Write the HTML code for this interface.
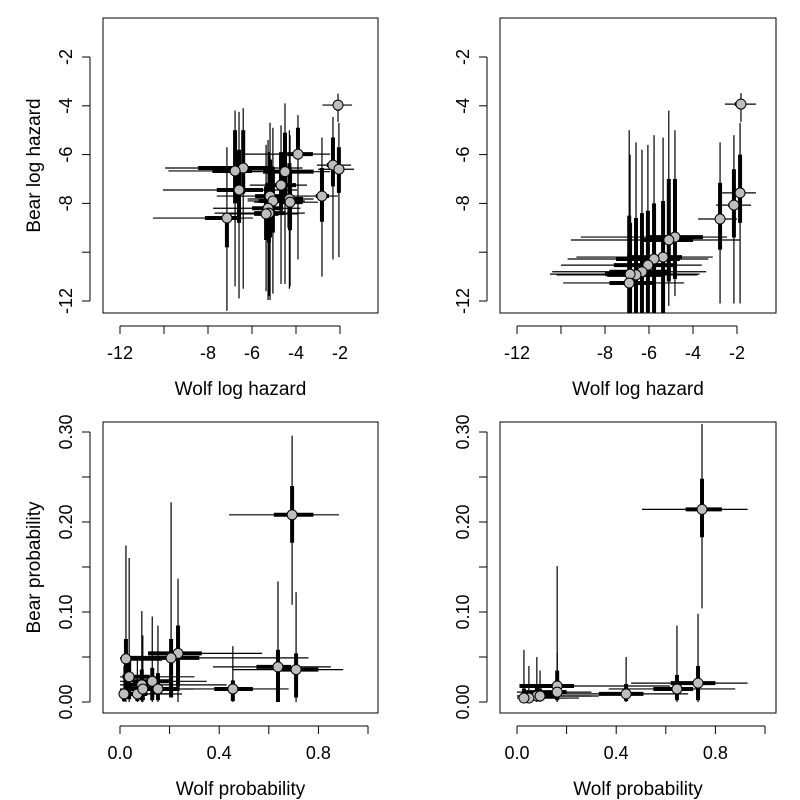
<!DOCTYPE html>
<html><head><meta charset="utf-8"><style>
html,body{margin:0;padding:0;background:#fff}
svg{display:block;font-family:"Liberation Sans",sans-serif}
</style></head><body>
<svg id="c" width="800" height="800" viewBox="0 0 800 800"></svg>
<script>
// Panel 1: log hazard, model A
const p1x=[-2.09,-3.91,-2.32,-2.05,-4.5,-6.4,-6.77,-6.59,-4.68,-2.82,-5.18,-4.3,-5.05,-4.27,-5.27,-5.23,-7.14,-5.36];
const p1y=[-3.97,-5.98,-6.43,-6.6,-6.7,-6.55,-6.67,-7.45,-7.25,-7.7,-7.7,-7.82,-7.9,-7.95,-8.2,-8.4,-8.6,-8.43];
const p1xlo=[-2.8,-6.4,-3.05,-3.0,-6.86,-9.95,-9.8,-10.05,-6.1,-3.8,-7.6,-6.2,-6.2,-5.9,-7.77,-7.7,-10.5,-7.0];
const p1xhi=[-1.45,-2.45,-1.5,-1.36,-2.45,-3.7,-4.7,-3.95,-3.5,-2.1,-3.5,-3.2,-3.6,-3.0,-3.8,-3.6,-5.95,-3.9];
const p1xlo50=[-2.3,-4.4,-2.6,-2.3,-5.5,-8.45,-7.8,-7.6,-5.4,-3.1,-5.86,-4.86,-5.7,-4.7,-6.0,-5.9,-8.14,-5.9];
const p1xhi50=[-1.9,-3.23,-2.1,-1.8,-3.2,-5.05,-6.0,-5.5,-4.0,-2.5,-4.27,-3.68,-4.5,-3.7,-4.6,-4.5,-6.55,-4.8];
const p1ylo=[-4.66,-10.3,-10.3,-10.2,-11.3,-11.5,-11.4,-11.9,-11.3,-11.0,-11.96,-11.5,-11.7,-11.4,-11.96,-11.8,-12.4,-11.6];
const p1yhi=[-3.5,-4.38,-4.46,-4.7,-3.9,-4.1,-4.2,-4.25,-4.8,-5.3,-4.7,-5.0,-4.9,-5.2,-5.4,-5.9,-5.7,-5.6];
const p1ylo50=[-4.2,-6.2,-7.3,-7.57,-7.7,-7.6,-8.0,-8.8,-8.3,-8.75,-9.4,-9.0,-9.2,-9.1,-9.4,-9.6,-9.8,-9.5];
const p1yhi50=[-3.8,-4.9,-5.3,-5.7,-5.1,-5.0,-5.0,-5.8,-5.9,-6.55,-6.2,-6.35,-6.5,-6.6,-7.16,-7.3,-8.5,-7.3];
// Panel 2: log hazard, model B
const p2x=[-1.82,-1.86,-2.14,-2.77,-4.82,-5.1,-5.36,-5.77,-6.05,-6.32,-6.59,-6.86,-6.9];
const p2y=[-3.93,-7.57,-8.07,-8.64,-9.38,-9.5,-10.2,-10.28,-10.53,-10.8,-10.93,-10.9,-11.26];
const p2xlo=[-2.55,-2.68,-2.95,-3.77,-9.1,-9.55,-9.3,-9.7,-10.0,-10.4,-10.2,-10.5,-9.9];
const p2xhi=[-1.14,-1.14,-1.36,-2.0,-2.45,-1.86,-3.1,-3.3,-3.6,-3.4,-3.8,-3.7,-4.4];
const p2xlo50=[-2.1,-2.1,-2.4,-3.0,-6.1,-6.4,-7.0,-7.5,-7.6,-7.8,-7.9,-8.0,-7.8];
const p2xhi50=[-1.6,-1.7,-1.9,-2.55,-3.55,-4.0,-4.5,-4.6,-4.8,-5.0,-5.3,-5.5,-5.7];
const p2ylo=[-4.66,-12.1,-12.1,-12.1,-11.8,-12.2,-13,-13,-13,-13,-13,-13,-13];
const p2yhi=[-3.48,-4.7,-5.2,-5.5,-5.0,-4.2,-5.3,-5.2,-5.6,-5.8,-5.5,-6.0,-5.0];
const p2ylo50=[-4.15,-8.8,-9.4,-9.9,-11.1,-11.2,-12.5,-12.5,-13,-13,-13,-13,-13];
const p2yhi50=[-3.75,-6.0,-6.6,-7.16,-7.0,-7.0,-7.9,-8.0,-8.3,-8.4,-8.6,-8.8,-8.5];
// Panel 3: probability, model A
const p3x=[0.694,0.637,0.71,0.455,0.234,0.206,0.024,0.037,0.088,0.13,0.153,0.07,0.016,0.092];
const p3y=[0.208,0.039,0.036,0.0145,0.054,0.049,0.048,0.028,0.019,0.023,0.0145,0.0089,0.009,0.0144];
const p3xlo=[0.44,0.375,0.456,0.38,0.113,0,0,0,0,0,0,0,0,0];
const p3xhi=[0.883,0.85,0.9,0.68,0.573,0.76,0.2,0.3,0.43,0.35,0.38,0.25,0.2,0.3];
const p3xlo50=[0.62,0.55,0.65,0.38,0.113,0.03,0.01,0.01,0.03,0.05,0.06,0.02,0.005,0.03];
const p3xhi50=[0.78,0.69,0.8,0.536,0.33,0.32,0.17,0.12,0.16,0.2,0.24,0.11,0.05,0.15];
const p3ylo=[0.108,0,0,0,0,0.005,0,0,0,0,0,0,0,0];
const p3yhi=[0.296,0.134,0.122,0.062,0.137,0.222,0.174,0.16,0.101,0.095,0.085,0.048,0.04,0.074];
const p3ylo50=[0.177,0,0.005,0.001,0.017,0.005,0.005,0.003,0.002,0.002,0.002,0.001,0.001,0.002];
const p3yhi50=[0.24,0.058,0.054,0.024,0.085,0.07,0.07,0.05,0.036,0.038,0.032,0.015,0.014,0.025];
// Panel 4: probability, model B
const p4x=[0.746,0.73,0.645,0.44,0.162,0.162,0.08,0.048,0.028,0.093];
const p4y=[0.214,0.021,0.0145,0.009,0.0178,0.011,0.0067,0.0044,0.0044,0.0067];
const p4xlo=[0.504,0.46,0.37,0.066,0.01,0,0,0,0,0];
const p4xhi=[0.93,0.93,0.88,0.69,0.617,0.3,0.33,0.25,0.2,0.3];
const p4xlo50=[0.68,0.62,0.55,0.33,0.01,0.03,0.02,0.01,0.01,0.02];
const p4xhi50=[0.826,0.8,0.71,0.51,0.23,0.2,0.16,0.1,0.08,0.14];
const p4ylo=[0.104,0,0,0,0,0,0,0,0,0];
const p4yhi=[0.309,0.098,0.085,0.05,0.151,0.055,0.05,0.04,0.058,0.035];
const p4ylo50=[0.183,0.002,0.002,0.001,0.003,0.002,0.001,0.001,0.001,0.001];
const p4yhi50=[0.248,0.04,0.03,0.02,0.035,0.025,0.018,0.012,0.015,0.015];
// Tick arrays
const hazTicks=[-12,-10,-8,-6,-4,-2];
const hazXLabels=["-12","","-8","-6","-4","-2"];
const hazYLabels=["-12","","-8","-6","-4","-2"];
const probXTicks=[0,0.2,0.4,0.6,0.8,1.0];
const probXLabels=["0.0","","0.4","","0.8",""];
const probYTicks=[0,0.05,0.1,0.15,0.2,0.25,0.3];
const probYLabels=["0.00","","0.10","","0.20","","0.30"];

const NS="http://www.w3.org/2000/svg";
const svg=document.getElementById('c');
function mk(tag,attrs,parent){const e=document.createElementNS(NS,tag);for(const k in attrs)e.setAttribute(k,attrs[k]);(parent||svg).appendChild(e);return e;}

const panels=[
 {id:'hazard-a',l:103,t:18,r:378,b:313,x0:-12,px0:120,kx:22,y0:-2,py0:57,ky:24.4,
  d:[p1x,p1y,p1xlo,p1xhi,p1xlo50,p1xhi50,p1ylo,p1yhi,p1ylo50,p1yhi50],xt:hazTicks,xl:hazXLabels,yt:hazTicks,yl:hazYLabels,xtitle:'Wolf log hazard',ytitle:'Bear log hazard'},
 {id:'hazard-b',l:500,t:18,r:776,b:313,x0:-12,px0:517,kx:22,y0:-2,py0:57,ky:24.4,
  d:[p2x,p2y,p2xlo,p2xhi,p2xlo50,p2xhi50,p2ylo,p2yhi,p2ylo50,p2yhi50],xt:hazTicks,xl:hazXLabels,yt:hazTicks,yl:hazYLabels,xtitle:'Wolf log hazard',ytitle:null},
 {id:'probability-a',l:103,t:422,r:378,b:713,x0:0,px0:120,kx:248,y0:0,py0:702,ky:900,
  d:[p3x,p3y,p3xlo,p3xhi,p3xlo50,p3xhi50,p3ylo,p3yhi,p3ylo50,p3yhi50],xt:probXTicks,xl:probXLabels,yt:probYTicks,yl:probYLabels,xtitle:'Wolf probability',ytitle:'Bear probability'},
 {id:'probability-b',l:500,t:422,r:776,b:713,x0:0,px0:517,kx:248,y0:0,py0:702,ky:900,
  d:[p4x,p4y,p4xlo,p4xhi,p4xlo50,p4xhi50,p4ylo,p4yhi,p4ylo50,p4yhi50],xt:probXTicks,xl:probXLabels,yt:probYTicks,yl:probYLabels,xtitle:'Wolf probability',ytitle:null}
];

panels.forEach((P,pi)=>{
  const sx=v=>P.px0+(v-P.x0)*P.kx;
  const sy=v=>P.py0-(v-P.y0)*P.ky;
  const g=mk('g',{});
  
  
  const cp=mk('clipPath',{id:'clip'+pi},g);
  mk('rect',{x:P.l,y:P.t,width:P.r-P.l,height:P.b-P.t},cp);
  const box=mk('rect',{x:P.l,y:P.t,width:P.r-P.l,height:P.b-P.t,fill:'none',stroke:'#000','stroke-width':1},g);
  
  
  // x axis
  const xa=mk('g',{},g);
  
  
  const xs=P.xt.map(sx);
  mk('line',{x1:xs[0],x2:xs[xs.length-1],y1:P.b+13,y2:P.b+13,stroke:'#000'},xa);
  P.xt.forEach((t,i)=>{
    mk('line',{x1:sx(t),x2:sx(t),y1:P.b+13,y2:P.b+21,stroke:'#000'},xa);
    if(P.xl[i]){const tx=mk('text',{x:sx(t),y:P.b+46,'text-anchor':'middle','font-size':18},xa);tx.textContent=P.xl[i];
      
      }
  });
  // y axis
  const ya=mk('g',{},g);
  
  
  const ys=P.yt.map(sy);
  mk('line',{x1:P.l-13,x2:P.l-13,y1:ys[0],y2:ys[ys.length-1],stroke:'#000'},ya);
  P.yt.forEach((t,i)=>{
    mk('line',{x1:P.l-21,x2:P.l-13,y1:sy(t),y2:sy(t),stroke:'#000'},ya);
    if(P.yl[i]){const X=P.l-31,Y=sy(t);const tx=mk('text',{x:X,y:Y,'text-anchor':'middle','font-size':18,transform:`rotate(-90 ${X} ${Y})`},ya);tx.textContent=P.yl[i];
      
      }
  });
  const xt=mk('text',{x:(P.l+P.r)/2,y:P.b+82,'text-anchor':'middle','font-size':19},g);
  xt.textContent=P.xtitle;
  
  
  if(P.ytitle){const X=40,Y=(P.t+P.b)/2;const yt=mk('text',{x:X,y:Y,'text-anchor':'middle','font-size':19,transform:`rotate(-90 ${X} ${Y})`},g);
    yt.textContent=P.ytitle;
    
    }
  // data
  const [X,Y,XL,XH,XL5,XH5,YL,YH,YL5,YH5]=P.d;
  const dg=mk('g',{'clip-path':`url(#clip${pi})`},g);
  
  
  X.forEach((v,i)=>{
    mk('line',{x1:sx(XL[i]),x2:sx(XH[i]),y1:sy(Y[i]),y2:sy(Y[i]),stroke:'#000','stroke-width':1.2},dg);
    mk('line',{x1:sx(v),x2:sx(v),y1:sy(YL[i]),y2:sy(YH[i]),stroke:'#000','stroke-width':1.2},dg);
    mk('line',{x1:sx(XL5[i]),x2:sx(XH5[i]),y1:sy(Y[i]),y2:sy(Y[i]),stroke:'#000','stroke-width':4},dg);
    mk('line',{x1:sx(v),x2:sx(v),y1:sy(YL5[i]),y2:sy(YH5[i]),stroke:'#000','stroke-width':4},dg);
  });
  X.forEach((v,i)=>{
    const c=mk('circle',{cx:sx(v),cy:sy(Y[i]),r:5,fill:'#bebebe',stroke:'#000','stroke-width':1},dg);
    
    
  });
});
</script>
</body></html>
